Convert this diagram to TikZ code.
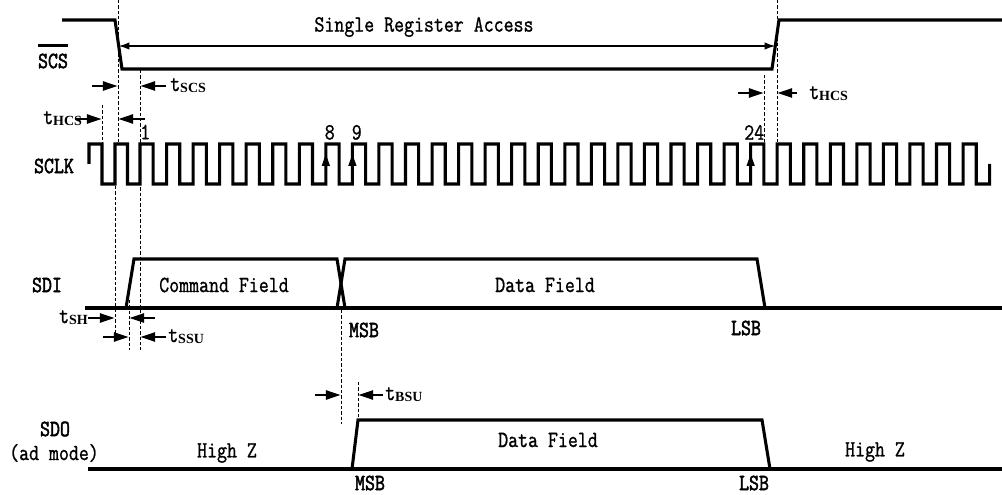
\documentclass[tikz,border=0pt]{standalone}
\usepackage{fontspec}
\newfontfamily\simf{Latin Modern Mono}[FakeBold=1.2]
\newfontfamily\simb{Latin Modern Mono}[FakeBold=2.4]
\newfontfamily\subf{Liberation Serif}
\usetikzlibrary{arrows.meta}
\newcommand{\T}[1]{\scalebox{1}[1.2]{#1}}
\newcommand{\tl}[1]{\T{t}\raisebox{-1.2pt}{\subf\bfseries\fontsize{10.5}{11}\selectfont #1}}
\tikzset{
  sig/.style={line width=2.3pt},
  guide/.style={line width=0.75pt, dash pattern=on 2.4pt off 1.6pt},
  dimarrow/.style={line width=1.2pt, -{Triangle[length=11pt,width=7pt]}},
  edgearrow/.style={line width=1pt, -{Triangle[length=9pt,width=6pt]}},
  span/.style={line width=1pt, {Latex[length=8pt,width=5.5pt]}-{Latex[length=8pt,width=5.5pt]}},
  lbl/.style={font=\fontsize{14.5}{17}\simf, inner sep=0pt},
  sname/.style={font=\fontsize{14.5}{17}\simb, inner sep=0pt},
  num/.style={font=\fontsize{14.5}{17}\simf, inner sep=0pt, anchor=south west},
  tlab/.style={font=\fontsize{14.5}{17}\simf, inner sep=0pt, anchor=base west},
}
\begin{document}
\begin{tikzpicture}[x=0.75pt,y=-0.75pt]
\useasboundingbox (0,0) rectangle (1002,495);

% ---------- guide lines (dashed) ----------
\draw[guide] (118,0) -- (118,143);
\draw[guide] (102,105) -- (102,143);
\draw[guide] (140,70) -- (140,350);
\draw[guide] (115,186) -- (115,336);
\draw[guide] (129,300) -- (129,350);
\draw[guide] (764,75) -- (764,143);
\draw[guide] (777,0) -- (777,143);
\draw[guide] (341,310) -- (341,424);
\draw[guide] (358,382) -- (358,420);

% ---------- SCS ----------
\coordinate (csA) at (118.7,46);
\coordinate (csB) at (775.3,46);
\draw[sig] (62,20) -- (115,20) -- (122,69) -- (772,69) -- (779,20) -- (1002,20);
\draw[span] (csA) -- (csB);
\node[lbl] (title) at (424,27) {\T{Single Register Access}};
\node[sname] (scs) at (53,61) {\T{SCS}};
\draw[line width=1.8pt] ([yshift=6pt]scs.north west) -- ([yshift=6pt]scs.north east);

% tSCS
\coordinate (a1s) at (92,86);  \coordinate (a1e) at (117.5,86);
\coordinate (a2s) at (166,86); \coordinate (a2e) at (140.5,86);
\draw[dimarrow] (a1s) -- (a1e);
\draw[dimarrow] (a2s) -- (a2e);
\node[tlab] (tscs) at (170,91) {\tl{SCS}};

% tHCS left
\coordinate (b1s) at (75,119);  \coordinate (b1e) at (101.5,119);
\coordinate (b2s) at (145,119); \coordinate (b2e) at (118.5,119);
\draw[dimarrow] (b1s) -- (b1e);
\draw[dimarrow] (b2s) -- (b2e);
\node[tlab] (thcsl) at (43,124) {\tl{HCS}};

% tHCS right
\coordinate (c1s) at (738,93);  \coordinate (c1e) at (763.5,93);
\coordinate (c2s) at (797,93);  \coordinate (c2e) at (777.5,93);
\draw[dimarrow] (c1s) -- (c1e);
\draw[dimarrow] (c2s) -- (c2e);
\node[tlab] (thcsr) at (809,99) {\tl{HCS}};

% ---------- SCLK ----------
\draw[sig] (89,164) -- (89,144) -- (102,144) -- (102,184) -- (115,184) -- (115,144)
  -- (127.5,144) -- (127.5,184) -- (140,184)
  \foreach \k in {0,...,31}{ -- ({140+\k*26.55},144) -- ({153.2+\k*26.55},144)
     -- ({153.2+\k*26.55},184) -- ({166.55+\k*26.55},184) } -- (989.6,164);
\node[sname] (sclk) at (54,166) {\T{SCLK}};
\draw[edgearrow] (325.85,170) -- (325.85,154);
\draw[edgearrow] (352.4,170) -- (352.4,154);
\draw[edgearrow] (750.65,170) -- (750.65,154);
\node[num] (n1) at (140,139.5) {\T{1}};
\node[num] (n8) at (324.5,140) {\T{8}};
\node[num] (n9) at (351.5,140) {\T{9}};
\node[num] (n24) at (744,140) {\T{24}};

% ---------- SDI ----------
\draw[sig] (85,308) -- (1002,308);
\draw[sig] (126,308) -- (134,259) -- (337,259) -- (345,308);
\draw[sig] (337,308) -- (345,259) -- (757,259) -- (765,308);
\node[sname] (sdi) at (47,285) {\T{SDI}};
\node[lbl] (cmd) at (224,285) {\T{Command Field}};
\node[lbl] (data1) at (545,285) {\T{Data Field}};
\node[sname] (msb1) at (364,330) {\T{MSB}};
\node[sname] (lsb1) at (746,328) {\T{LSB}};

% tSH
\coordinate (d1s) at (88,318);  \coordinate (d1e) at (114.5,318);
\coordinate (d2s) at (155,318); \coordinate (d2e) at (129.5,318);
\draw[dimarrow] (d1s) -- (d1e);
\draw[dimarrow] (d2s) -- (d2e);
\node[tlab, anchor=base east] (tsh) at (88,323) {\tl{SH}};

% tSSU
\coordinate (e1s) at (103,337); \coordinate (e1e) at (128.5,337);
\coordinate (e2s) at (166,337); \coordinate (e2e) at (140.5,337);
\draw[dimarrow] (e1s) -- (e1e);
\draw[dimarrow] (e2s) -- (e2e);
\node[tlab] (tssu) at (168,342) {\tl{SSU}};

% ---------- SDO ----------
\draw[sig] (88,469) -- (1002,469);
\draw[sig] (352,469) -- (358,420) -- (762,420) -- (770,469);
\node[sname] (sdo) at (55,429) {\T{SDO}};
\node[lbl] (mode) at (54,453) {\T{(ad mode)}};
\node[lbl] (hz1) at (227,453) {\T{High Z}};
\node[lbl] (hz2) at (875,452) {\T{High Z}};
\node[lbl] (data2) at (548,440) {\T{Data Field}};
\node[sname] (msb2) at (370,483) {\T{MSB}};
\node[sname] (lsb2) at (754,483) {\T{LSB}};

% tBSU
\coordinate (f1s) at (315,395); \coordinate (f1e) at (340.5,395);
\coordinate (f2s) at (383,395); \coordinate (f2e) at (358.5,395);
\draw[dimarrow] (f1s) -- (f1e);
\draw[dimarrow] (f2s) -- (f2e);
\node[tlab] (tbsu) at (385,400) {\tl{BSU}};
\end{tikzpicture}
\end{document}
